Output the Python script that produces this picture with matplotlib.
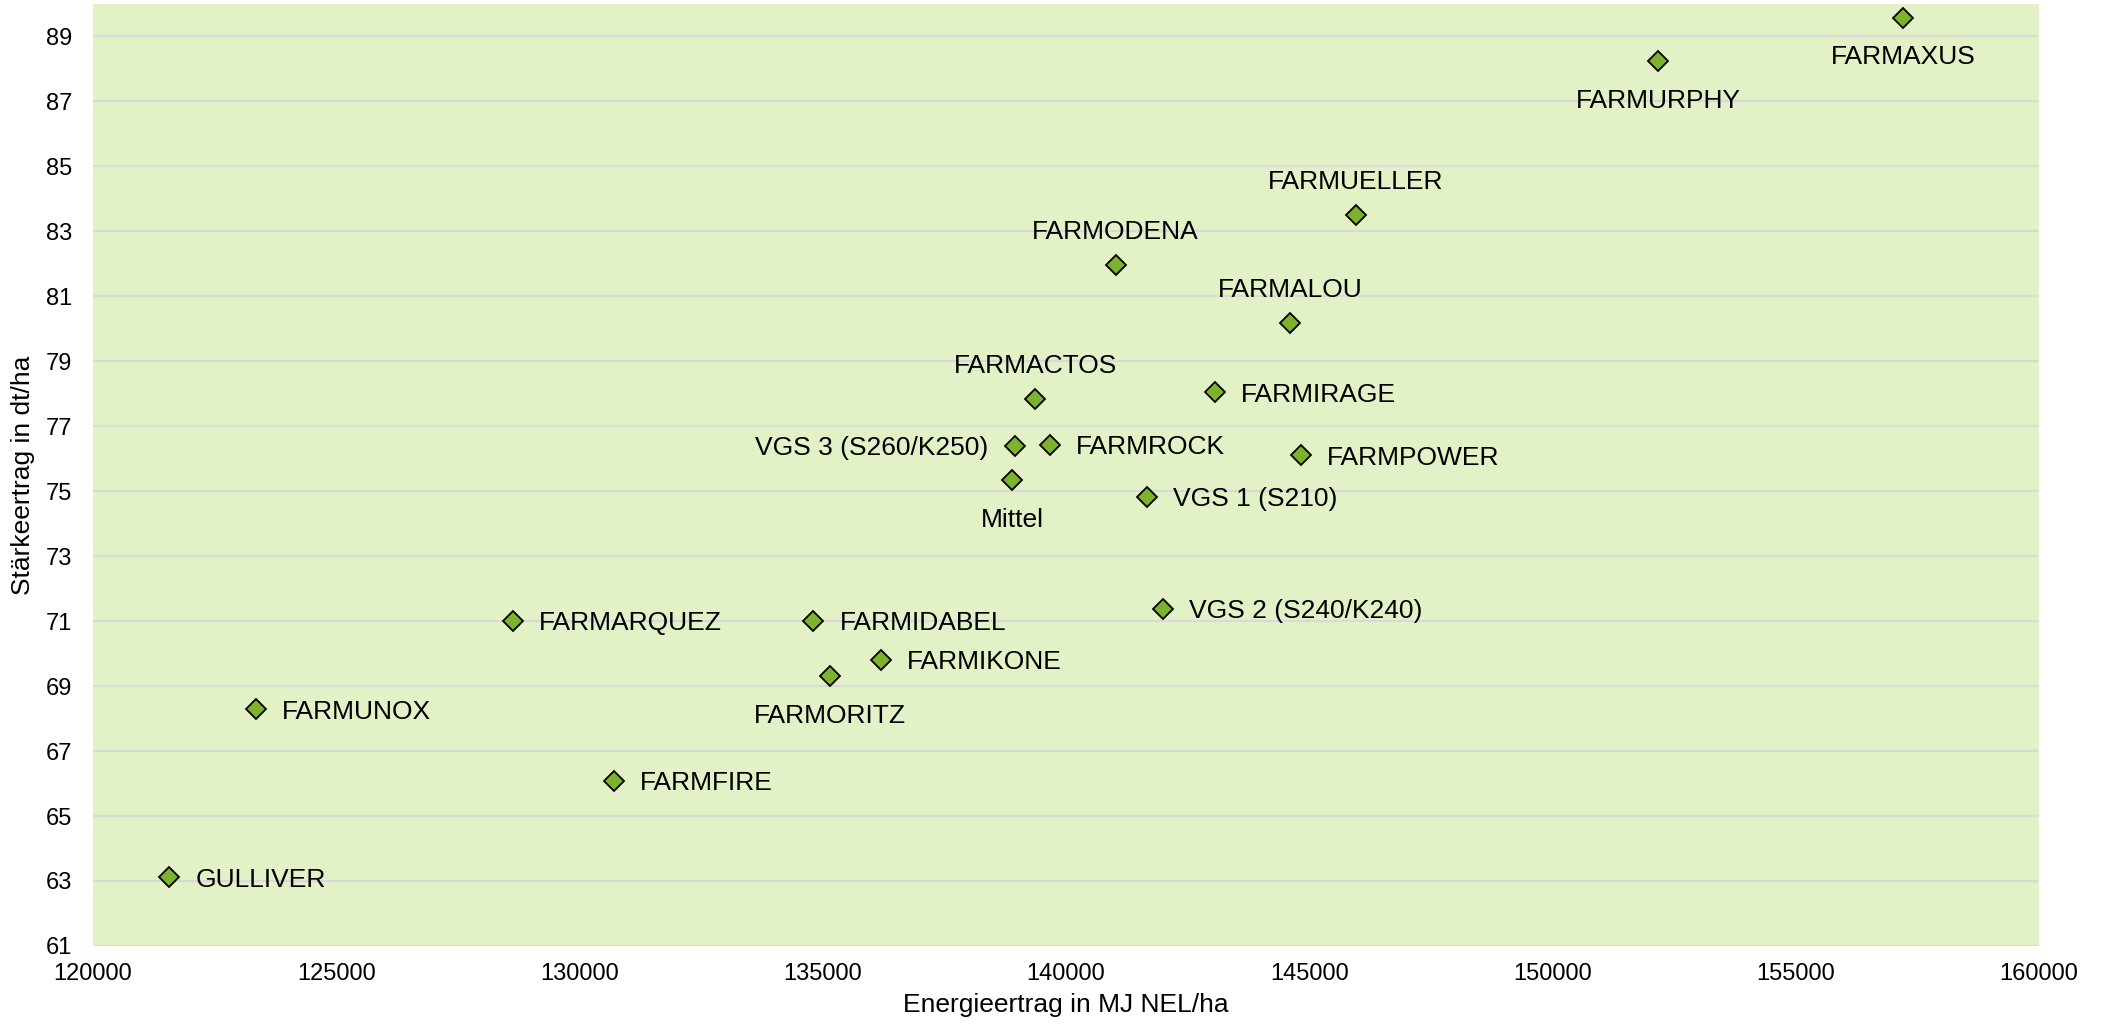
import numpy as np
import matplotlib.pyplot as plt

plt.rcParams['font.family'] = ['Liberation Sans', 'DejaVu Sans']

# Sorten: Energieertrag (MJ NEL/ha) und Stärkeertrag (dt/ha)
sorten = ['GULLIVER', 'FARMUNOX', 'FARMFIRE', 'FARMARQUEZ', 'FARMIDABEL',
          'FARMORITZ', 'FARMIKONE', 'VGS 2 (S240/K240)', 'Mittel',
          'VGS 3 (S260/K250)', 'FARMROCK', 'FARMACTOS', 'VGS 1 (S210)',
          'FARMIRAGE', 'FARMPOWER', 'FARMALOU', 'FARMODENA', 'FARMUELLER',
          'FARMURPHY', 'FARMAXUS']
energie = [121570, 123340, 130700, 128630, 134810,
           135150, 136190, 141990, 138900,
           138950, 139670, 139370, 141660,
           143060, 144830, 144610, 141020, 145960,
           152170, 157210]
staerke = [63.11, 68.28, 66.09, 71.01, 71.01,
           69.31, 69.81, 71.38, 75.35,
           76.38, 76.43, 77.83, 74.81,
           78.04, 76.10, 80.19, 81.97, 83.50,
           88.25, 89.58]
# Lage der Beschriftung je Punkt
lage = ['r', 'r', 'r', 'r', 'r',
        'b', 'r', 'r', 'b',
        'l', 'r', 't', 'r',
        'r', 'r', 't', 't', 't',
        'b', 'b']

fig = plt.figure(figsize=(21.05, 10.30), dpi=100)
ax = fig.add_axes([0.0442, 0.0816, 0.9244, 0.9145])
ax.set_facecolor('#E2F1C6')

ax.plot(energie, staerke, linestyle='none', marker='D', markersize=10.5,
        markerfacecolor='#7DB22C', markeredgecolor='black',
        markeredgewidth=1.3, zorder=3)

offsets = {'r': ((19, -1.5), 'left', 'center'),
           'l': ((-19, -1.5), 'right', 'center'),
           't': ((0, 15), 'center', 'bottom'),
           'b': ((0, -20), 'center', 'top')}
for name, x, y, pos in zip(sorten, energie, staerke, lage):
    off, ha, va = offsets[pos]
    ax.annotate(name, (x, y), xytext=off, textcoords='offset points',
                ha=ha, va=va, fontsize=19, color='black')

ax.set_xlim(120000, 160000)
ax.set_ylim(61, 90)
ax.set_xticks(np.arange(120000, 160001, 5000))
ax.set_yticks(np.arange(61, 90, 2))
ax.tick_params(length=0, labelsize=17)
ax.tick_params(axis='y', pad=15)
ax.tick_params(axis='x', pad=12)
ax.grid(axis='y', color='#D9D9D9', linewidth=1.5, zorder=0)
ax.set_axisbelow(True)
for s in ax.spines.values():
    s.set_visible(False)

ax.set_xlabel('Energieertrag in MJ NEL/ha', fontsize=19, labelpad=6)
ax.set_ylabel('Stärkeertrag in dt/ha', fontsize=19, labelpad=8)

fig.savefig('out.png', dpi=100)
